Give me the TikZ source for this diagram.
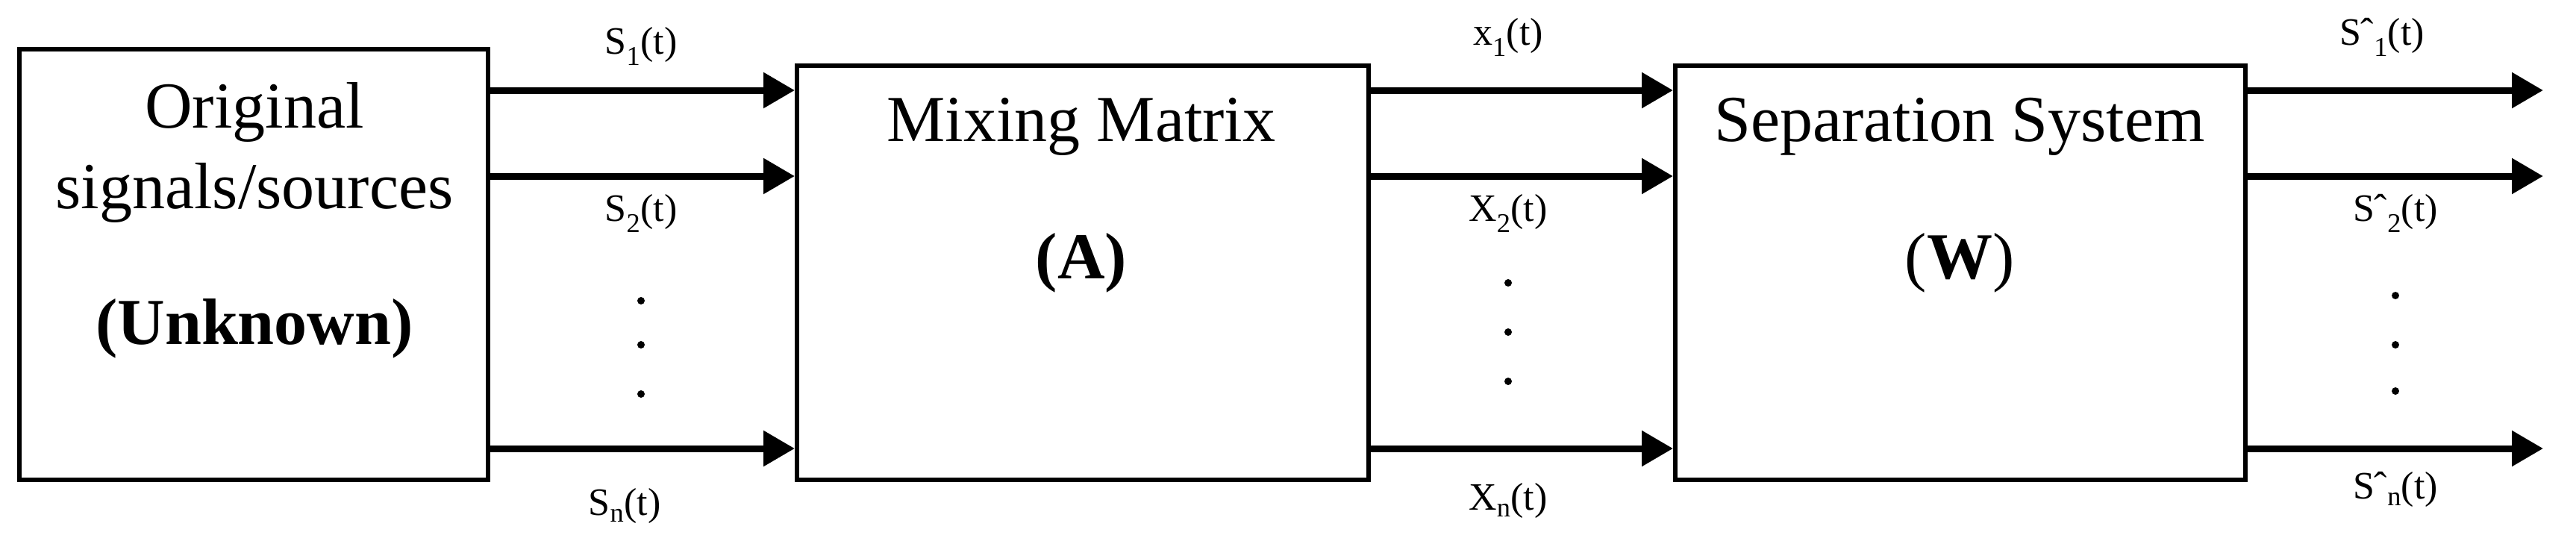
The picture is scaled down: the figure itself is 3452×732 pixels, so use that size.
\documentclass[tikz,border=0pt]{standalone}
\usepackage{fontspec}
\setmainfont{Liberation Serif}
\usetikzlibrary{arrows.meta}
\begin{document}
\begin{tikzpicture}[x=1pt,y=-1pt,
  box/.style={draw,line width=6pt,inner sep=0pt},
  big/.style={font=\fontsize{88}{100}\selectfont,inner sep=0pt},
  bigb/.style={font=\fontsize{88}{100}\selectfont\bfseries,inner sep=0pt},
  lab/.style={font=\fontsize{52}{60}\selectfont,inner sep=0pt},
  arr/.style={line width=9pt,-{Triangle[length=42pt,width=46pt]}},
  dot/.style={fill,circle,inner sep=0pt,minimum size=10pt}]
\useasboundingbox (0,0) rectangle (3452,732);
\node[box,minimum width=628pt,minimum height=577pt] (b1) at (340,354.5) {};
\node[box,minimum width=766pt,minimum height=555pt] (b2) at (1451,365.5) {};
\node[box,minimum width=764pt,minimum height=555pt] (b3) at (2627,365.5) {};
\node[big] (t1) at (341,150) {Original};
\node[big] (t2) at (341,258) {signals/sources};
\node[bigb] (t3) at (341,440) {(Unknown)};
\node[big] (t4) at (1449,170) {Mixing Matrix};
\node[bigb] (t5) at (1449,352) {(A)};
\node[big] (t6) at (2626,170) {Separation System};
\node[big] (t7) at (2626,352) {(\textbf{W})};
\foreach \i/\y in {1/121,2/236,3/601}{
  \coordinate (a\i) at (b1.east |- 0,\y);
  \coordinate (c\i) at (b2.east |- 0,\y);
  \coordinate (e\i) at (b3.east |- 0,\y);
  \coordinate (o\i) at (3408,\y);
  \draw[arr] (a\i) -- (b2.west |- a\i);
  \draw[arr] (c\i) -- (b3.west |- c\i);
  \draw[arr] (e\i) -- (o\i);
}
\node[lab] (l1) at (859,62) {S\textsubscript{1}(t)};
\node[lab] (l2) at (859,286) {S\textsubscript{2}(t)};
\node[lab] (l3) at (837,678) {S\textsubscript{n}(t)};
\node[lab] (m1) at (2021,50) {x\textsubscript{1}(t)};
\node[lab] (m2) at (2021,286) {X\textsubscript{2}(t)};
\node[lab] (m3) at (2021,671) {X\textsubscript{n}(t)};
\node[lab] (n1) at (3192,50) {Sˆ\textsubscript{1}(t)};
\node[lab] (n2) at (3210,286) {Sˆ\textsubscript{2}(t)};
\node[lab] (n3) at (3210,656) {Sˆ\textsubscript{n}(t)};
\foreach \y [count=\k] in {403,462,528}{\node[dot] (d1\k) at (859,\y) {};}
\foreach \y [count=\k] in {379,445,511}{\node[dot] (d2\k) at (2021,\y) {};}
\foreach \y [count=\k] in {396,462,524}{\node[dot] (d3\k) at (3210,\y) {};}
\end{tikzpicture}
\end{document}
